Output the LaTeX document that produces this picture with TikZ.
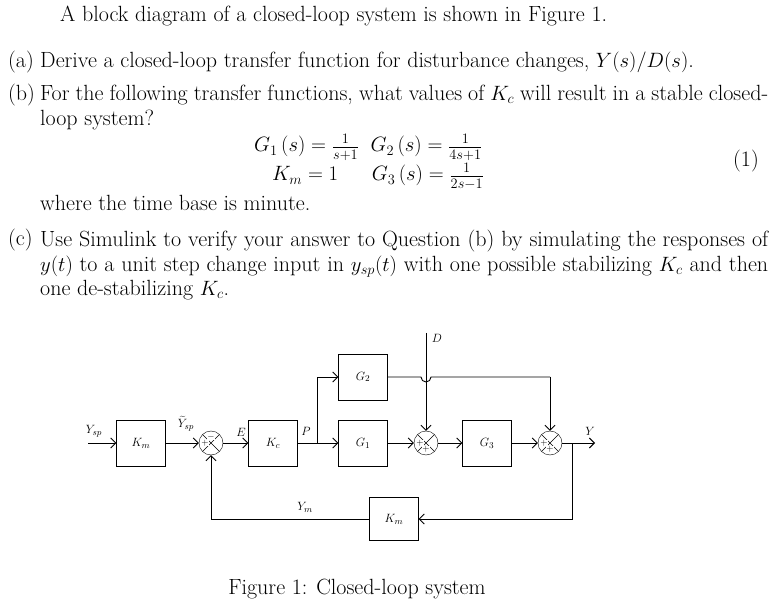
\documentclass[tikz,border=0pt]{standalone}
\usetikzlibrary{arrows.meta}
\begin{document}
\begin{tikzpicture}[x=1pt,y=-1pt,
  blk/.style={draw,minimum width=49pt,minimum height=46pt,font=\fontsize{13}{15}\selectfont},
  sumj/.style={draw,circle,minimum size=24pt,inner sep=0pt,
    path picture={\draw (path picture bounding box.south west)--(path picture bounding box.north east)
      (path picture bounding box.north west)--(path picture bounding box.south east);}},
  sg/.style={font=\fontsize{9}{9}\selectfont,inner sep=0pt,fill=white},
  lab/.style={font=\fontsize{13}{15}\selectfont,inner sep=1pt},
  txt/.style={font=\fontsize{22}{24.5}\selectfont,inner sep=0pt,anchor=base west},
  par/.style={txt,text width=728pt,align=justify},
  arr/.style={-{Straight Barb[length=5pt]},line width=0.9pt},
  ln/.style={line width=0.9pt}]
\useasboundingbox (0,0) rectangle (772,604);
% text
\node[txt] (t0) at (60,22) {A block diagram of a closed-loop system is shown in Figure 1.};
\node[txt] (la) at (8,68) {(a)};
\node[txt] (ta) at (40,68) {Derive a closed-loop transfer function for disturbance changes, $Y(s)/D(s)$.};
\node[txt] (lb) at (8,101) {(b)};
\node[par,anchor=north west] (tb) at (40,85) {For the following transfer functions, what values of $K_c$ will result in a stable closed-loop system?};
\node[txt] (e1) at (254,152) {$G_1\left(s\right)=\frac{1}{s+1}\;\; G_2\left(s\right)=\frac{1}{4s+1}$};
\node[txt] (e2) at (272,181) {$K_m=1\quad\;\; G_3\left(s\right)=\frac{1}{2s-1}$};
\node[txt] (eq) at (733,167) {(1)};
\node[txt] (wh) at (40,211) {where the time base is minute.};
\node[txt] (lc) at (8,246) {(c)};
\node[par,anchor=north west] (tc) at (40,230) {Use Simulink to verify your answer to Question (b) by simulating the responses of $y(t)$ to a unit step change input in $y_{sp}(t)$ with one possible stabilizing $K_c$ and then one de-stabilizing $K_c$.};
\node[txt,anchor=base] (cap) at (357,594) {Figure 1: Closed-loop system};
% diagram
\coordinate (in) at (88,443);
\node[blk] (km) at (141,443) {$K_m$};
\node[sumj] (s1) at (211,443) {};
\node[sg] at ([xshift=-6pt]s1.center) {$+$};
\node[sg] at ([yshift=6pt]s1.center) {$-$};
\node[blk] (kc) at (273,443) {$K_c$};
\node[blk] (g2) at (363,377) {$G_2$};
\node[blk] (g1) at (363,443) {$G_1$};
\node[sumj] (s2) at (426,443) {};
\node[sg] at ([xshift=-6pt]s2.center) {$+$};
\node[sg] at ([yshift=-6pt]s2.center) {$+$};
\node[blk] (g3) at (487,443) {$G_3$};
\node[sumj] (s3) at (550,443) {};
\node[sg] at ([xshift=-6pt]s3.center) {$+$};
\node[sg] at ([yshift=-6pt]s3.center) {$+$};
\coordinate (out) at (595,443);
\coordinate (br) at (572,443);
\coordinate (pb) at (317,443);
\coordinate (dt) at (426,333);
\node[blk,minimum height=43pt] (km2) at (394,519) {$K_m$};
\draw[arr] (in) -- (km);
\draw[arr] (km) -- (s1);
\draw[arr] (s1) -- (kc);
\draw[ln] (kc) -- (pb);
\draw[arr] (pb) -- (g1);
\draw[arr] (pb) |- (g2);
\draw[arr] (g1) -- (s2);
\draw[arr] (s2) -- (g3);
\draw[arr] (g3) -- (s3);
\draw[arr] (s3) -- (out);
\draw[arr] (dt) -- (s2);
\draw[ln] (g2.east) -- (421,377) arc[start angle=180,end angle=0,radius=5] -- (550,377);
\draw[arr] (550,377) -- (s3);
\draw[arr] (br) |- (km2);
\draw[arr] (km2) -| (s1);
\node[lab] at (94,431) {$Y_{sp}$};
\node[lab] at (186,424) {$\widetilde{Y}_{sp}$};
\node[lab] at (241,432) {$E$};
\node[lab] at (306,431) {$P$};
\node[lab] at (437,338) {$D$};
\node[lab] at (590,431) {$Y$};
\node[lab] at (305,507) {$Y_m$};
\end{tikzpicture}
\end{document}
